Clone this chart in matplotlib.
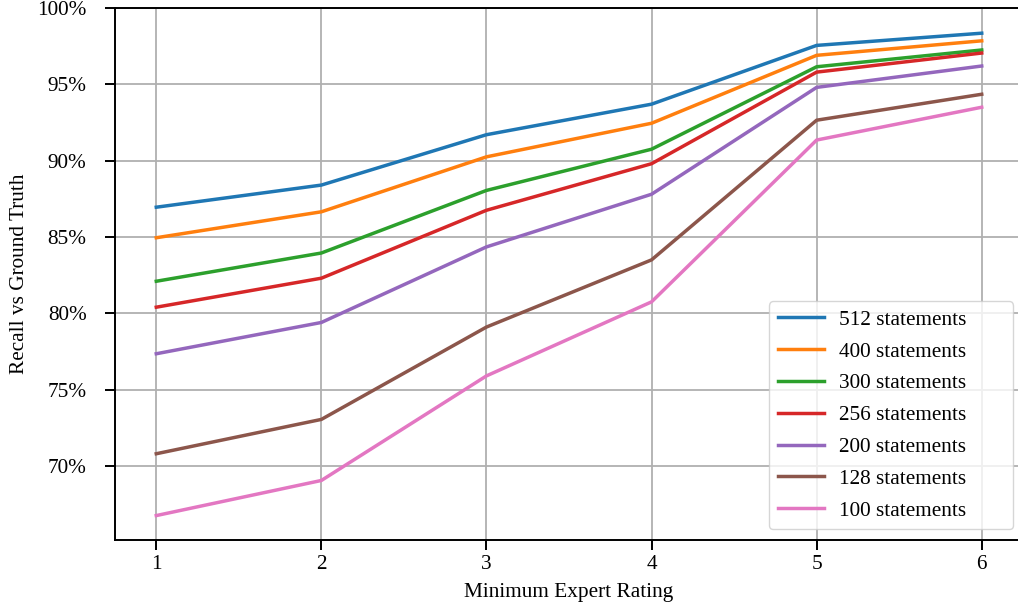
import matplotlib
matplotlib.use("Agg")
import matplotlib.pyplot as plt
from matplotlib.ticker import FuncFormatter

ratings = [1, 2, 3, 4, 5, 6]
labels = ["512 statements", "400 statements", "300 statements", "256 statements",
          "200 statements", "128 statements", "100 statements"]
r512 = [86.95, 88.4, 91.7, 93.7, 97.55, 98.35]
r400 = [84.95, 86.65, 90.25, 92.45, 96.9, 97.85]
r300 = [82.1, 83.95, 88.05, 90.75, 96.15, 97.25]
r256 = [80.4, 82.3, 86.75, 89.8, 95.8, 97.05]
r200 = [77.35, 79.4, 84.35, 87.8, 94.8, 96.2]
r128 = [70.8, 73.05, 79.1, 83.5, 92.65, 94.35]
r100 = [66.75, 69.05, 75.9, 80.75, 91.35, 93.5]
series = [r512, r400, r300, r256, r200, r128, r100]
colors = ["#1f77b4", "#ff7f0e", "#2ca02c", "#d62728", "#9467bd", "#8c564b", "#e377c2"]

plt.rcParams['font.family'] = ['Liberation Serif', 'DejaVu Serif']
plt.rcParams['font.size'] = 15.3

fig = plt.figure(figsize=(10.18, 6.13), dpi=100)
ax = fig.add_axes([115/1018, 1 - 540/613, (1023 - 115)/1018, (540 - 8)/613])

for vals, lab, c in zip(series, labels, colors):
    ax.plot(ratings, vals, color=c, lw=2.5, label=lab)

ax.set_xlim(0.75, 6.25)
ax.set_ylim(65.15, 100)
ax.set_xticks(ratings)
ax.set_yticks([70, 75, 80, 85, 90, 95, 100])
ax.yaxis.set_major_formatter(FuncFormatter(lambda v, p: f"{int(round(v))}%"))
ax.grid(True, color="#b0b0b0", lw=1.3)
ax.set_axisbelow(True)
ax.spines['right'].set_visible(False)
for s in ['left', 'bottom', 'top']:
    ax.spines[s].set_linewidth(1.4)
ax.tick_params(axis='both', direction='out', length=7, width=1.4, labelsize=15.3)
ax.tick_params(axis='y', pad=13.5)
ax.tick_params(axis='x', pad=4)
ax.set_xlabel("Minimum Expert Rating", fontsize=15.3, labelpad=6)
ax.set_ylabel("Recall vs Ground Truth", fontsize=15.3, labelpad=6)

leg = ax.legend(loc='lower left', bbox_to_anchor=((769 - 115)/908, 11/532, (1013 - 769)/908, 0.3),
                bbox_transform=ax.transAxes, mode='expand', borderaxespad=0,
                fontsize=15.3, handlelength=2.2, handletextpad=0.7, labelspacing=0.56,
                framealpha=0.8, edgecolor="#cccccc")

fig.savefig("out.png", dpi=100)
